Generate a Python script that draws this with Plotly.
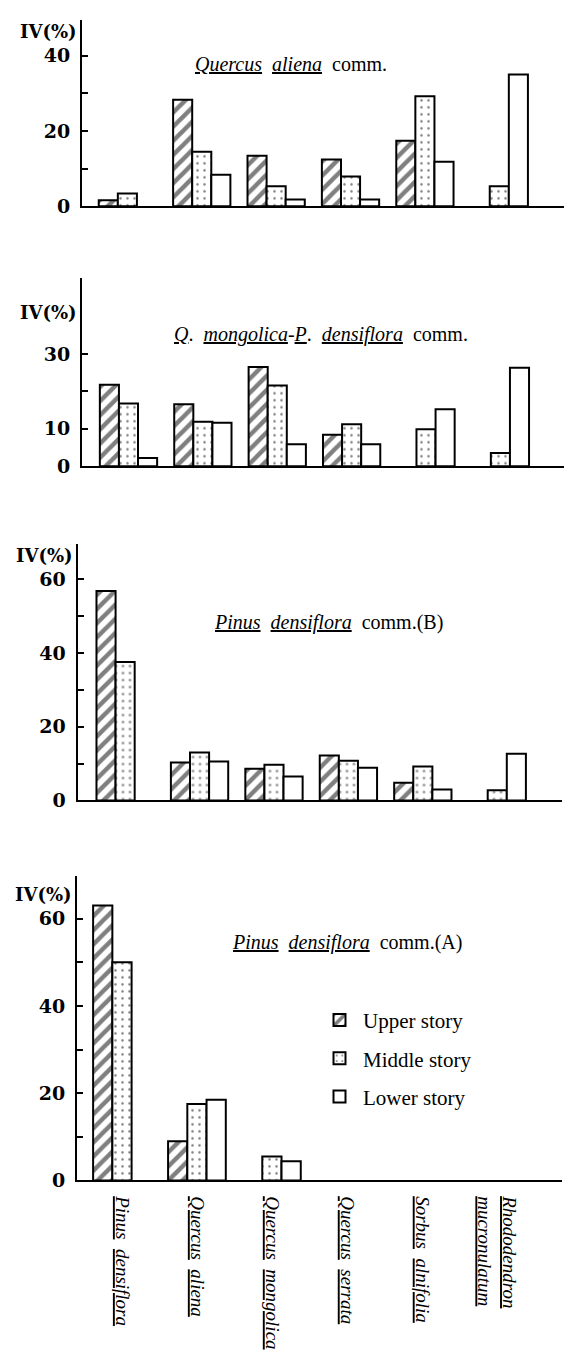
import plotly.graph_objects as go

# ---------------- data ----------------
categories = ["Pinus densiflora", "Quercus aliena", "Quercus mongolica",
              "Quercus serrata", "Sorbus alnifolia", "Rhododendron mucronulatum"]
category_labels = [
    "<u><i>Pinus</i></u>\u00a0\u00a0<u><i>densiflora</i></u>",
    "<u><i>Quercus</i></u>\u00a0\u00a0<u><i>aliena</i></u>",
    "<u><i>Quercus</i></u>\u00a0\u00a0<u><i>mongolica</i></u>",
    "<u><i>Quercus</i></u>\u00a0\u00a0<u><i>serrata</i></u>",
    "<u><i>Sorbus</i></u>\u00a0\u00a0<u><i>alnifolia</i></u>",
    "<u><i>Rhododendron</i></u><br><u><i>mucronulatum</i></u>",
]
stories = ["Upper story", "Middle story", "Lower story"]

# Quercus aliena comm.
qa_upper = [1.6, 28.3, 13.4, 12.4, 17.4, None]
qa_middle = [3.4, 14.5, 5.3, 7.9, 29.2, 5.3]
qa_lower = [None, 8.4, 1.8, 1.8, 11.8, 35.0]

# Q. mongolica-P. densiflora comm.
qm_upper = [21.8, 16.6, 26.5, 8.4, None, None]
qm_middle = [16.8, 11.9, 21.6, 11.2, 9.9, 3.5]
qm_lower = [2.2, 11.6, 5.9, 5.9, 15.2, 26.3]

# Pinus densiflora comm.(B)
pb_upper = [56.8, 10.3, 8.6, 12.2, 4.8, None]
pb_middle = [37.6, 13.0, 9.7, 10.8, 9.2, 2.8]
pb_lower = [None, 10.6, 6.5, 8.9, 3.0, 12.7]

# Pinus densiflora comm.(A)
pa_upper = [63.0, 9.0, None, None, None, None]
pa_middle = [50.0, 17.5, 5.5, None, None, None]
pa_lower = [None, 18.5, 4.4, None, None, None]

titles = [
    "<u><i>Quercus</i></u>\u00a0\u00a0<u><i>aliena</i></u>\u00a0\u00a0comm.",
    "<u><i>Q</i></u>.\u00a0\u00a0<u><i>mongolica</i></u>-<u><i>P</i></u>.\u00a0\u00a0<u><i>densiflora</i></u>\u00a0\u00a0comm.",
    "<u><i>Pinus</i></u>\u00a0\u00a0<u><i>densiflora</i></u>\u00a0\u00a0comm.(B)",
    "<u><i>Pinus</i></u>\u00a0\u00a0<u><i>densiflora</i></u>\u00a0\u00a0comm.(A)",
]
y_ticks = [[0, 10, 20, 30, 40], [0, 10, 20, 30], [0, 10, 20, 30, 40, 50, 60], [0, 10, 20, 30, 40, 50, 60]]
y_ticktext = [["0", "", "20", "", "40"], ["0", "10", "", "30"],
              ["0", "", "20", "", "40", "", "60"], ["0", "", "20", "", "40", "", "60"]]

panels = [
    (qa_upper, qa_middle, qa_lower),
    (qm_upper, qm_middle, qm_lower),
    (pb_upper, pb_middle, pb_lower),
    (pa_upper, pa_middle, pa_lower),
]

SERIF = "Liberation Serif, Times New Roman, Times, serif"
BOLD_SERIF = "DejaVu Serif, serif"

# ---------------- layout geometry (pixels) ----------------
W, H = 565, 1362
# (x_left, x_right, y_top, y_bottom, x_range, y_max)
geom = [
    (82, 564, 20, 208, [-0.61, 5.87], 49.5),
    (82, 564, 280, 470, [-0.625, 5.855], 50.4),
    (77.5, 562, 548, 807, [-0.64, 5.87], 69.7),
    (77, 562, 883, 1190, [-0.6, 5.87], 69.8),
]
title_pos = [(291, 65), (321, 337), (328, 628), (347, 950)]
ylabel_pos = [32, 315, 560, 902]

patterns = [
    dict(shape="/", fgcolor="black", bgcolor="white", size=10, solidity=0.45),
    dict(shape=".", fgcolor="black", bgcolor="white", size=7, solidity=0.1),
    dict(shape="", fgcolor="black", bgcolor="white"),
]

fig = go.Figure()
for i, vals in enumerate(panels):
    sfx = "" if i == 0 else str(i + 1)
    for s, story in enumerate(stories):
        fig.add_trace(go.Bar(
            x=categories, y=vals[s], name=story,
            xaxis="x" + sfx, yaxis="y" + sfx,
            legendgroup=story, showlegend=(i == 3),
            marker=dict(color="white", line=dict(color="black", width=2),
                        pattern=patterns[s]),
        ))

layout = dict(
    width=W, height=H, margin=dict(l=0, r=0, t=0, b=0),
    paper_bgcolor="white", plot_bgcolor="white",
    barmode="group", bargap=0.23, bargroupgap=0,
    showlegend=True,
    legend=dict(x=316 / W, y=1 - 1008 / H, xanchor="left", yanchor="top",
                font=dict(family=SERIF, size=21, color="black"),
                itemwidth=37,
                tracegroupgap=8, bgcolor="rgba(0,0,0,0)"),
    annotations=[],
)

for i, (xl, xr, yt, yb, xr_range, ymax) in enumerate(geom):
    sfx = "" if i == 0 else str(i + 1)
    layout["xaxis" + sfx] = dict(
        domain=[xl / W, xr / W], range=xr_range, anchor="y" + sfx,
        showline=True, linecolor="black", linewidth=2, showgrid=False,
        zeroline=False, ticks="", type="category",
        categoryorder="array", categoryarray=categories,
        showticklabels=(i == 3),
        tickvals=categories, ticktext=category_labels, tickangle=90,
        tickfont=dict(family=SERIF, size=19, color="black"),
        ticklabelstandoff=10,
    )
    layout["yaxis" + sfx] = dict(
        domain=[1 - yb / H, 1 - yt / H], range=[0, ymax], anchor="x" + sfx,
        showline=True, linecolor="black", linewidth=2, showgrid=False,
        zeroline=False, ticks="inside", ticklen=6, tickwidth=2, tickcolor="black",
        tickmode="array", tickvals=y_ticks[i], ticktext=y_ticktext[i],
        tickfont=dict(family=BOLD_SERIF, size=19, color="black", weight="bold"),
        ticklabelstandoff=6,
    )
    tx, ty = title_pos[i]
    layout["annotations"].append(dict(
        text=titles[i], x=tx / W, y=1 - ty / H, xref="paper", yref="paper",
        xanchor="center", yanchor="middle", showarrow=False,
        font=dict(family=SERIF, size=20, color="black"),
    ))
    layout["annotations"].append(dict(
        text="IV(%)", x=(xl - 3) / W, y=1 - ylabel_pos[i] / H, xref="paper", yref="paper",
        xanchor="right", yanchor="middle", showarrow=False,
        font=dict(family=BOLD_SERIF, size=18, color="black", weight="bold"),
    ))

fig.update_layout(**layout)
fig.write_html("out.html")
